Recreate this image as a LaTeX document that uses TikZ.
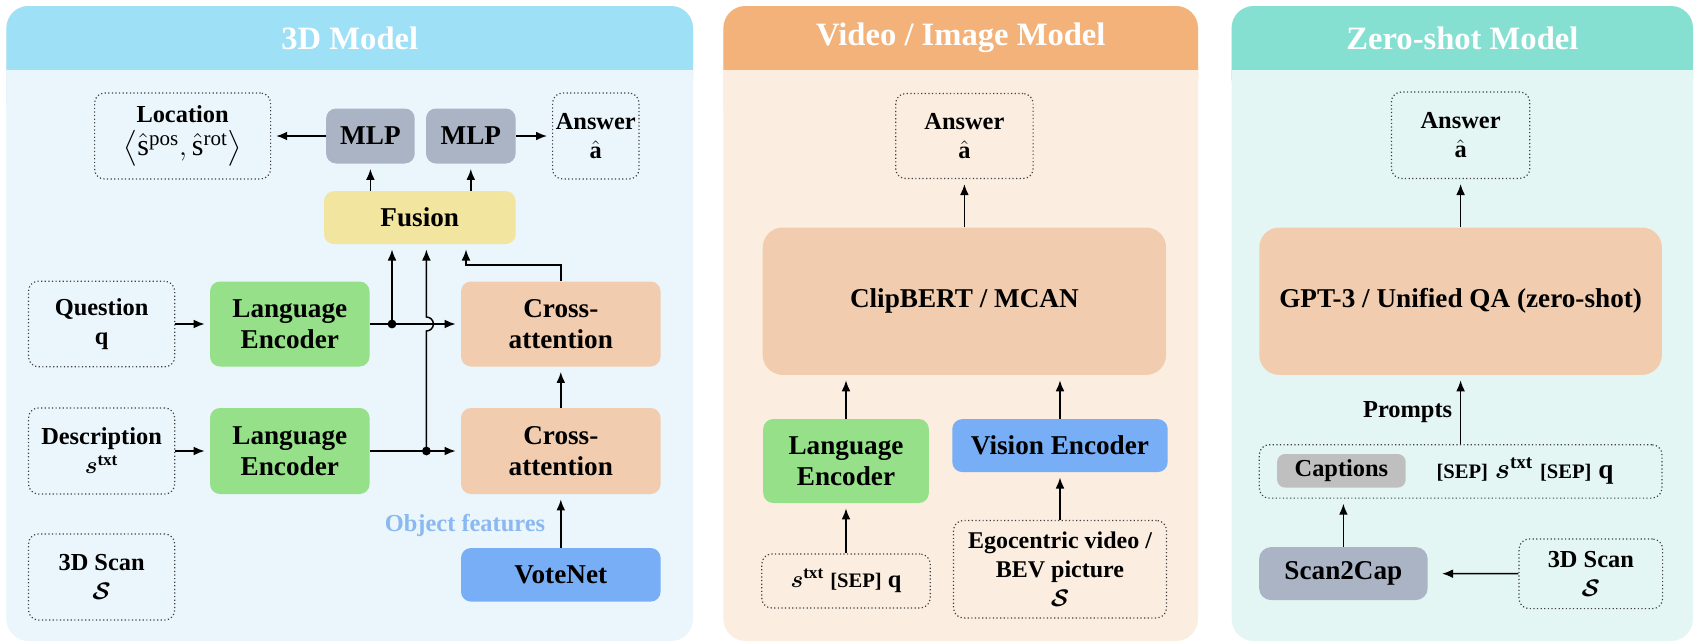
\documentclass[tikz,border=0pt]{standalone}
\usepackage{amsmath}
\usepackage{amssymb}
\usepackage{bm}
\usepackage{fontspec}
\setmainfont{Liberation Serif}
\usetikzlibrary{arrows.meta, calc}
\definecolor{headBlue}{RGB}{158, 224, 245}
\definecolor{bodyBlue}{RGB}{234, 246, 252}
\definecolor{headOrange}{RGB}{242, 178, 122}
\definecolor{bodyOrange}{RGB}{251, 238, 224}
\definecolor{headTeal}{RGB}{134, 224, 210}
\definecolor{bodyTeal}{RGB}{227, 246, 243}
\definecolor{mlpGray}{RGB}{171, 180, 196}
\definecolor{fusionYellow}{RGB}{242, 229, 160}
\definecolor{langGreen}{RGB}{150, 224, 138}
\definecolor{crossPeach}{RGB}{241, 204, 174}
\definecolor{voteBlue}{RGB}{120, 174, 245}
\definecolor{capGray}{RGB}{191, 191, 191}
\definecolor{featBlue}{RGB}{138, 184, 240}

\begin{document}
\begin{tikzpicture}[x=1pt, y=-1pt,
    box/.style={rounded corners=5pt, align=center, inner sep=0pt, font=\bfseries\fontsize{13.6}{15.4}\selectfont},
    dotbox/.style={box, draw=black!75, line width=0.6pt, dash pattern=on 0.6pt off 1.2pt, font=\bfseries\fontsize{12.2}{14.5}\selectfont},
    arr/.style={-{Latex[length=5.5pt, width=4.4pt]}, line width=0.75pt, shorten >=2.5pt},
    head/.style={text=white, font=\bfseries\fontsize{16.3}{18}\selectfont},
    small/.style={font=\bfseries\fontsize{12.2}{14}\selectfont}]
    \useasboundingbox (0,0) rectangle (849,321.5);

    % panels
    \foreach \xa/\xb/\hc/\bc in {3.2/346.5/headBlue/bodyBlue, 361.7/599/headOrange/bodyOrange, 615.8/846.5/headTeal/bodyTeal}{
        \fill[\bc, rounded corners=11pt] (\xa,3) rectangle (\xb,320.5);
        \fill[\hc, rounded corners=11pt] (\xa,3) rectangle (\xb,50);
        \fill[\bc] (\xa,35) rectangle (\xb,55);
    }
    \node[head] (titleA) at (174.9,19) {3D Model};
    \node[head] (titleB) at (480.4,19) {Video / Image Model};
    \node[head] (titleC) at (731.2,19) {Zero-shot Model};

    % 3D model
    \node[dotbox, minimum width=88pt, minimum height=43pt] (loc) at (91.3,68) {Location\\[2pt] {\fontsize{15}{17}\selectfont $\big\langle\hat{\mathrm{s}}^{\mathrm{pos}},\hat{\mathrm{s}}^{\mathrm{rot}}\big\rangle$}};
    \node[box, fill=mlpGray, minimum width=44.3pt, minimum height=27.5pt] (mlpA) at (185.2,68) {MLP};
    \node[box, fill=mlpGray, minimum width=44.8pt, minimum height=27.5pt] (mlpB) at (235.4,68) {MLP};
    \node[dotbox, minimum width=43.2pt, minimum height=43pt] (ansA) at (297.9,68) {Answer\\ $\hat{\textbf{a}}$};
    \node[box, fill=fusionYellow, minimum width=95.8pt, minimum height=26.5pt] (fusion) at (209.9,108.8) {Fusion};
    \node[dotbox, minimum width=73.1pt, minimum height=42.8pt] (question) at (50.8,162) {Question\\ q};
    \node[box, fill=langGreen, minimum width=79.8pt, minimum height=42.5pt] (langA) at (144.9,162) {Language\\ Encoder};
    \node[box, fill=crossPeach, minimum width=99.8pt, minimum height=42.5pt] (crossA) at (280.4,162) {Cross-\\ attention};
    \node[dotbox, minimum width=73.1pt, minimum height=43pt] (desc) at (50.8,225.5) {Description\\ $\boldsymbol{s}^{\textbf{txt}}$};
    \node[box, fill=langGreen, minimum width=79.8pt, minimum height=43pt] (langB) at (144.9,225.5) {Language\\ Encoder};
    \node[box, fill=crossPeach, minimum width=99.8pt, minimum height=43pt] (crossB) at (280.4,225.5) {Cross-\\ attention};
    \node[small, text=featBlue] (objFeat) at (232.5,262.5) {Object features};
    \node[box, fill=voteBlue, minimum width=99.8pt, minimum height=26.8pt] (votenet) at (280.4,287.4) {VoteNet};
    \node[dotbox, minimum width=73.1pt, minimum height=43pt] (scanA) at (50.8,288.5) {3D Scan\\ $\boldsymbol{\mathcal{S}}$};

    \coordinate (dotA) at (196,162);
    \coordinate (dotB) at (213.2,225.5);
    \coordinate (bend) at (233,132.5);

    \draw[arr] (mlpA) -- (loc);
    \draw[arr] (mlpB) -- (ansA);
    \draw[arr] (fusion.north -| mlpA) -- (mlpA);
    \draw[arr] (fusion.north -| mlpB) -- (mlpB);
    \draw[arr] (question) -- (langA);
    \draw[arr] (desc) -- (langB);
    \draw[arr] (langA) -- (crossA);
    \draw[arr] (langB) -- (crossB);
    \fill (dotA) circle (2.2pt);
    \fill (dotB) circle (2.2pt);
    \draw[arr] (dotA) -- (dotA |- fusion.south);
    \draw[arr] (dotB) -- ($(dotB |- dotA)+(0,3.5)$) arc[start angle=-90, end angle=90, radius=3.5pt] -- (dotB |- fusion.south);
    \draw[arr] (crossA.north) |- (bend) -- (bend |- fusion.south);
    \draw[arr] (crossB) -- (crossA);
    \draw[arr] (votenet) -- (crossB);

    % video / image model
    \node[dotbox, minimum width=68.7pt, minimum height=42.5pt] (ansB) at (482.2,68) {Answer\\ $\hat{\textbf{a}}$};
    \node[box, rounded corners=10pt, fill=crossPeach, minimum width=201.7pt, minimum height=73.7pt] (clip) at (482.2,150.6) {ClipBERT / MCAN};
    \node[box, fill=langGreen, minimum width=82.8pt, minimum height=42pt] (langC) at (423,230.5) {Language\\ Encoder};
    \node[box, fill=voteBlue, minimum width=107.7pt, minimum height=26.5pt] (vision) at (530,222.8) {Vision Encoder};
    \node[dotbox, minimum width=84.2pt, minimum height=27pt] (seqB) at (423,290.5) {$\boldsymbol{s}^{\textbf{txt}}$ {\fontsize{10.3}{12}\selectfont [SEP]} q};
    \node[dotbox, font=\bfseries\fontsize{12}{14.3}\selectfont, minimum width=106.5pt, minimum height=48.8pt] (ego) at (530,284.6) {Egocentric video /\\ BEV picture\\ $\boldsymbol{\mathcal{S}}$};

    \draw[arr] (clip) -- (ansB);
    \draw[arr] (langC) -- (langC |- clip.south);
    \draw[arr] (vision) -- (vision |- clip.south);
    \draw[arr] (seqB) -- (langC);
    \draw[arr] (ego) -- (vision);

    % zero-shot model
    \node[dotbox, minimum width=69.2pt, minimum height=43.2pt] (ansC) at (730.3,67.6) {Answer\\ $\hat{\textbf{a}}$};
    \node[box, rounded corners=10pt, fill=crossPeach, minimum width=201.3pt, minimum height=73.7pt] (gpt) at (730.3,150.6) {GPT-3 / Unified QA (zero-shot)};
    \node[dotbox, minimum width=201.3pt, minimum height=26.7pt] (prompt) at (730.3,235.7) {};
    \node[box, small, rounded corners=4pt, fill=capGray, minimum width=64.3pt, minimum height=16.8pt] (captions) at (670.7,235.4) {Captions};
    \node[box] (sepText) at (762.5,235.5) {{\fontsize{10.3}{12}\selectfont [SEP]} $\boldsymbol{s}^{\textbf{txt}}$ {\fontsize{10.3}{12}\selectfont [SEP]} q};
    \node[small] (promptsLabel) at (703.8,206) {Prompts};
    \node[box, rounded corners=6pt, fill=mlpGray, minimum width=84.3pt, minimum height=26.5pt] (scan2cap) at (671.7,286.8) {Scan2Cap};
    \node[dotbox, minimum width=71.8pt, minimum height=34.8pt] (scanC) at (795.4,286.9) {3D Scan\\ $\boldsymbol{\mathcal{S}}$};

    \draw[arr] (gpt) -- (ansC);
    \draw[arr] (prompt) -- (gpt);
    \draw[arr] (scan2cap) -- (scan2cap |- prompt.south);
    \draw[arr, shorten >=7pt] (scanC) -- (scan2cap);
\end{tikzpicture}
\end{document}
